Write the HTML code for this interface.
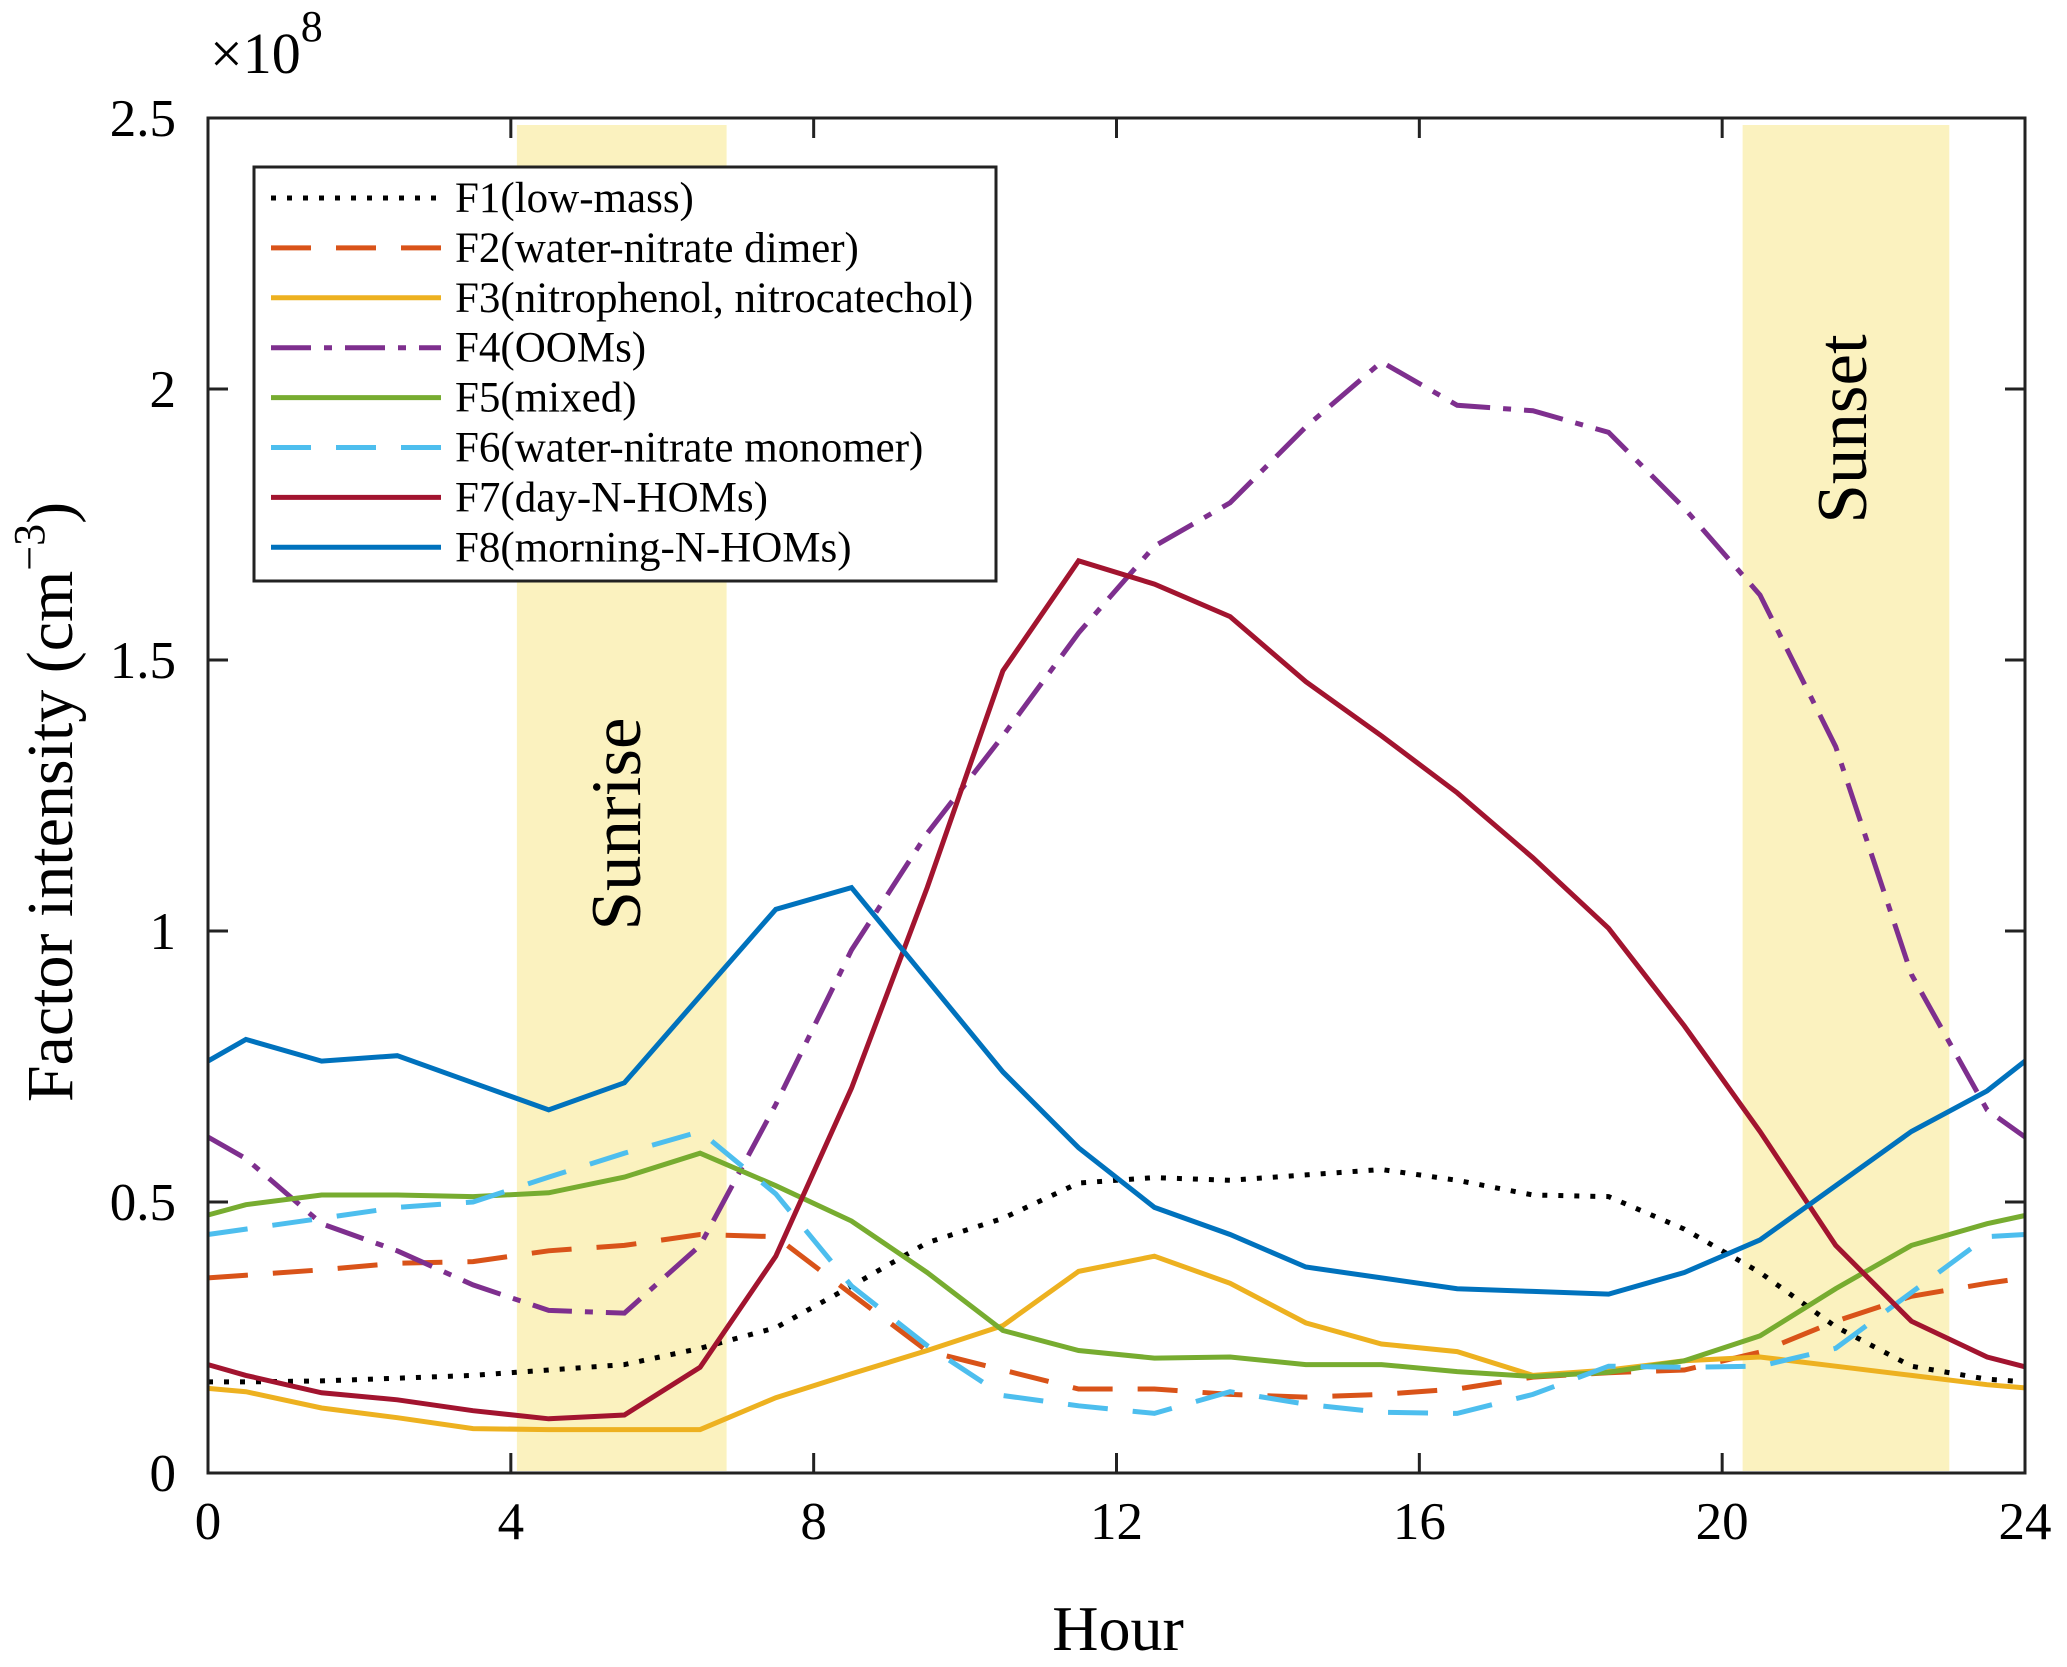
<!DOCTYPE html>
<html><head><meta charset="utf-8"><style>
html,body{margin:0;padding:0;background:#fff;}
svg{display:block;font-family:"Liberation Serif",serif;}
</style></head><body>
<svg id="chart" width="2067" height="1667" viewBox="0 0 2067 1667">
<g id="bands"></g><g id="series"></g><g id="axes"></g><g id="legend"></g>
</svg>
<script>
const hours=[0,0.5,1.5,2.5,3.5,4.5,5.5,6.5,7.5,8.5,9.5,10.5,11.5,12.5,13.5,14.5,15.5,16.5,17.5,18.5,19.5,20.5,21.5,22.5,23.5,24];
const f1=[0.168,0.168,0.17,0.175,0.18,0.19,0.2,0.23,0.268,0.345,0.425,0.47,0.535,0.545,0.54,0.55,0.56,0.54,0.513,0.51,0.45,0.37,0.27,0.197,0.173,0.168];
const f2=[0.36,0.365,0.375,0.387,0.39,0.41,0.42,0.44,0.436,0.33,0.225,0.19,0.155,0.155,0.145,0.14,0.145,0.155,0.177,0.185,0.19,0.223,0.28,0.326,0.35,0.36];
const f3=[0.156,0.15,0.12,0.102,0.082,0.08,0.08,0.08,0.139,0.183,0.226,0.272,0.372,0.40,0.35,0.277,0.238,0.224,0.18,0.19,0.207,0.214,0.197,0.18,0.163,0.157];
const f4=[0.62,0.58,0.46,0.41,0.347,0.30,0.295,0.42,0.68,0.965,1.18,1.36,1.55,1.71,1.79,1.93,2.05,1.97,1.96,1.92,1.78,1.62,1.34,0.92,0.67,0.62];
const f5=[0.476,0.495,0.513,0.513,0.51,0.517,0.546,0.59,0.53,0.465,0.37,0.263,0.226,0.212,0.214,0.20,0.2,0.187,0.178,0.186,0.207,0.253,0.34,0.42,0.46,0.475];
const f6=[0.44,0.45,0.47,0.49,0.50,0.546,0.59,0.63,0.515,0.345,0.235,0.143,0.124,0.11,0.15,0.127,0.112,0.11,0.145,0.197,0.195,0.197,0.23,0.333,0.436,0.44];
const f7=[0.20,0.18,0.148,0.135,0.115,0.10,0.107,0.195,0.40,0.71,1.08,1.48,1.683,1.64,1.58,1.46,1.36,1.255,1.135,1.005,0.825,0.63,0.42,0.28,0.214,0.196];
const f8=[0.76,0.80,0.76,0.77,0.72,0.67,0.72,0.88,1.04,1.08,0.91,0.74,0.60,0.49,0.44,0.38,0.36,0.34,0.335,0.33,0.37,0.43,0.53,0.63,0.705,0.76];
const seriesNames=["F1(low-mass)","F2(water-nitrate dimer)","F3(nitrophenol, nitrocatechol)","F4(OOMs)","F5(mixed)","F6(water-nitrate monomer)","F7(day-N-HOMs)","F8(morning-N-HOMs)"];
const xTicks=[0,4,8,12,16,20,24];
const yTicks=[0,0.5,1,1.5,2,2.5];
const yTickLabels=["0","0.5","1","1.5","2","2.5"];
const sunrise=[4.08,6.85];
const sunset=[20.27,23.0];

const NS="http://www.w3.org/2000/svg";
const L=208,R=2025,T=118,B=1473;
const X=h=>L+(h/24)*(R-L);
const Y=v=>B-(v/2.5)*(B-T);
function mk(tag,attrs,parent){const e=document.createElementNS(NS,tag);for(const k in attrs)e.setAttribute(k,attrs[k]);parent.appendChild(e);return e;}
const bands=document.getElementById('bands'),sg=document.getElementById('series'),ax=document.getElementById('axes'),lg=document.getElementById('legend');

[[sunrise,"sunrise"],[sunset,"sunset"]].forEach(([b,nm])=>{
  const r=mk('rect',{x:X(b[0]),y:125,width:X(b[1])-X(b[0]),height:1471-125,fill:'#FBF2BF'},bands);
  
  
});
const t1=mk('text',{x:0,y:0,'font-size':71,'text-anchor':'middle',transform:'translate(640,824) rotate(-90)'},bands);
t1.textContent='Sunrise';


const t2=mk('text',{x:0,y:0,'font-size':71,'text-anchor':'middle',transform:'translate(1866,429) rotate(-90)'},bands);
t2.textContent='Sunset';



const styles=[
 {c:'#000000',d:'5 11'},
 {c:'#D95319',d:'40 25'},
 {c:'#EDB120',d:''},
 {c:'#7E2F8E',d:'40 13 8 13'},
 {c:'#77AC30',d:''},
 {c:'#4DBEEE',d:'40 25'},
 {c:'#A2142F',d:''},
 {c:'#0072BD',d:''}
];
const data=[f1,f2,f3,f4,f5,f6,f7,f8];
data.forEach((arr,i)=>{
  const pts=arr.map((v,j)=>X(hours[j]).toFixed(1)+','+Y(v).toFixed(1)).join(' ');
  const p=mk('polyline',{points:pts,fill:'none',stroke:styles[i].c,'stroke-width':5,'stroke-linejoin':'miter'},sg);
  if(styles[i].d)p.setAttribute('stroke-dasharray',styles[i].d);
  
  
});

const box=mk('rect',{x:L,y:T,width:R-L,height:B-T,fill:'none',stroke:'#222','stroke-width':3},ax);


xTicks.forEach(h=>{
  const x=X(h);
  mk('line',{x1:x,y1:B,x2:x,y2:B-20,stroke:'#222','stroke-width':3},ax);
  mk('line',{x1:x,y1:T,x2:x,y2:T+20,stroke:'#222','stroke-width':3},ax);
  const t=mk('text',{x:x,y:1539,'font-size':53,'text-anchor':'middle'},ax);
  t.textContent=String(h);
  
  
});
yTicks.forEach((v,i)=>{
  const y=Y(v);
  mk('line',{x1:L,y1:y,x2:L+20,y2:y,stroke:'#222','stroke-width':3},ax);
  mk('line',{x1:R,y1:y,x2:R-20,y2:y,stroke:'#222','stroke-width':3},ax);
  const t=mk('text',{x:176,y:y+18,'font-size':53,'text-anchor':'end'},ax);
  t.textContent=yTickLabels[i];
  
  
});
const ex=mk('text',{x:210,y:73,'font-size':58},ax);
ex.innerHTML='×10<tspan dy="-32" font-size="44">8</tspan>';


const xl=mk('text',{x:1118,y:1650,'font-size':64,'text-anchor':'middle'},ax);
xl.textContent='Hour';


const yl=mk('text',{x:0,y:0,'font-size':66,'text-anchor':'middle',transform:'translate(72,802) rotate(-90)'},ax);
yl.innerHTML='Factor intensity (cm<tspan dy="-28" font-size="44">−3</tspan><tspan dy="28">)</tspan>';



const lb=mk('rect',{x:254,y:167,width:742,height:414,fill:'#fff',stroke:'#222','stroke-width':3},lg);


seriesNames.forEach((n,i)=>{
  const y=198+i*49.9;
  const g=mk('g',{},lg);
  
  
  const ln=mk('line',{x1:271,y1:y,x2:441,y2:y,stroke:styles[i].c,'stroke-width':5},g);
  if(styles[i].d)ln.setAttribute('stroke-dasharray',styles[i].d);
  const t=mk('text',{x:455,y:y+14,'font-size':43},g);
  t.textContent=n;
});
</script>
</body></html>
